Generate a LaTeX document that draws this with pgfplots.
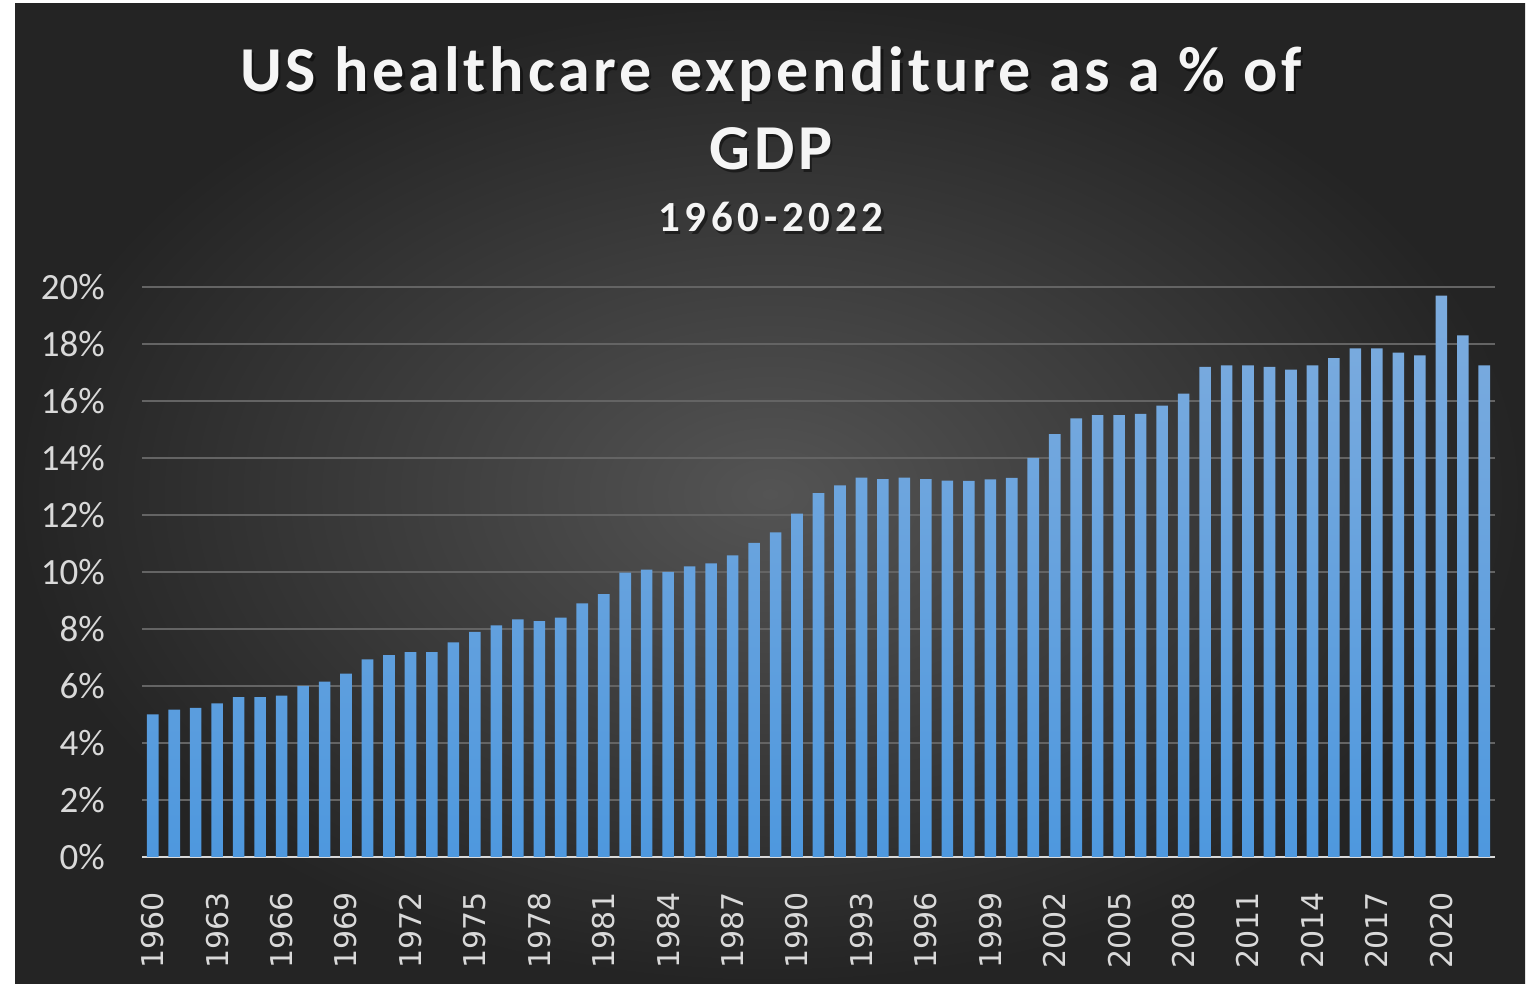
\documentclass[border=0pt]{standalone}
\usepackage{pgfplots}
\pgfplotsset{compat=1.18}
\usepackage{fontspec}
\setmainfont{Carlito}
\newfontfamily\dejavu{DejaVu Sans}
\newfontfamily\titlefont[LetterSpace=6]{Carlito}
\newfontfamily\subfont[LetterSpace=11]{Carlito}
\definecolor{barTop}{RGB}{125,172,222}
\definecolor{barBot}{RGB}{78,152,222}
\definecolor{gridc}{RGB}{100,100,100}
\definecolor{lbl}{RGB}{217,217,217}
\pgfplotstableread{
year val
1960 5.0
1961 5.17
1962 5.23
1963 5.39
1964 5.61
1965 5.61
1966 5.66
1967 6.0
1968 6.15
1969 6.43
1970 6.93
1971 7.08
1972 7.19
1973 7.19
1974 7.53
1975 7.9
1976 8.13
1977 8.34
1978 8.28
1979 8.4
1980 8.9
1981 9.22
1982 9.98
1983 10.08
1984 10.0
1985 10.2
1986 10.3
1987 10.58
1988 11.02
1989 11.39
1990 12.05
1991 12.77
1992 13.04
1993 13.31
1994 13.26
1995 13.31
1996 13.26
1997 13.21
1998 13.2
1999 13.25
2000 13.3
2001 14.0
2002 14.84
2003 15.39
2004 15.5
2005 15.5
2006 15.55
2007 15.84
2008 16.26
2009 17.2
2010 17.25
2011 17.25
2012 17.2
2013 17.1
2014 17.25
2015 17.5
2016 17.85
2017 17.85
2018 17.7
2019 17.6
2020 19.7
2021 18.3
2022 17.25
}\datatable
\begin{document}
\begin{tikzpicture}
\fill[white] (0,0) rectangle (764.5pt,494.5pt);
\shade[inner color={rgb,255:red,84;green,84;blue,84}, outer color={rgb,255:red,36;green,36;blue,36}] (7.5pt,2.5pt) rectangle (762.5pt,492.5pt);
\foreach \dx/\dy/\op in {1.2pt/-1.2pt/0.45} {
\node[anchor=base, text=black, opacity=\op, font=\titlefont\bfseries\fontsize{32}{38}\selectfont] at ([shift={(\dx,\dy)}]385.5pt,448.5pt) {US healthcare expenditure as a \% of};
\node[anchor=base, text=black, opacity=\op, font=\titlefont\bfseries\fontsize{32}{38}\selectfont] at ([shift={(\dx,\dy)}]385.5pt,409.5pt) {GDP};
\node[anchor=base, text=black, opacity=\op, font=\subfont\bfseries\fontsize{21.5}{25}\selectfont] at ([shift={(\dx,\dy)}]385.5pt,378.5pt) {1960-2022};
}
\node[anchor=base, text=white!96!black, font=\titlefont\bfseries\fontsize{32}{38}\selectfont] at (385.5pt,448.5pt) {US healthcare expenditure as a \% of};
\node[anchor=base, text=white!96!black, font=\titlefont\bfseries\fontsize{32}{38}\selectfont] at (385.5pt,409.5pt) {GDP};
\node[anchor=base, text=white!96!black, font=\subfont\bfseries\fontsize{21.5}{25}\selectfont] at (385.5pt,378.5pt) {1960-2022};
\begin{axis}[
  at={(71pt,66pt)}, anchor=south west,
  scale only axis, width=676.5pt, height=285pt,
  xmin=1959.5, xmax=2022.5, ymin=0, ymax=20,
  ybar, bar width=0.54,
  separate axis lines,
  axis x line*=bottom, axis y line*=left,
  x axis line style={-, draw=lbl, line width=1.2pt},
  y axis line style={draw=none},
  major tick length=0pt,
  ymajorgrids, grid style={draw=gridc, line width=1pt},
  ytick={0,2,...,20},
  yticklabels={0\%,2\%,4\%,6\%,8\%,10\%,12\%,14\%,16\%,18\%,20\%},
  yticklabel style={font=\fontsize{18.5}{20}\selectfont, text=lbl, xshift=-15pt},
  xtick={1960,1963,...,2020},
  /pgf/number format/assume math mode=true,
  /pgf/number format/1000 sep={},
  xticklabel style={font=\dejavu\fontsize{15}{16}\selectfont, text=lbl, rotate=90, anchor=east},
  xticklabel shift=14pt,
  clip=false,
]
\addplot[draw=none, top color=barTop, bottom color=barBot] table[x=year, y=val] {\datatable};
\end{axis}
\end{tikzpicture}
\end{document}
